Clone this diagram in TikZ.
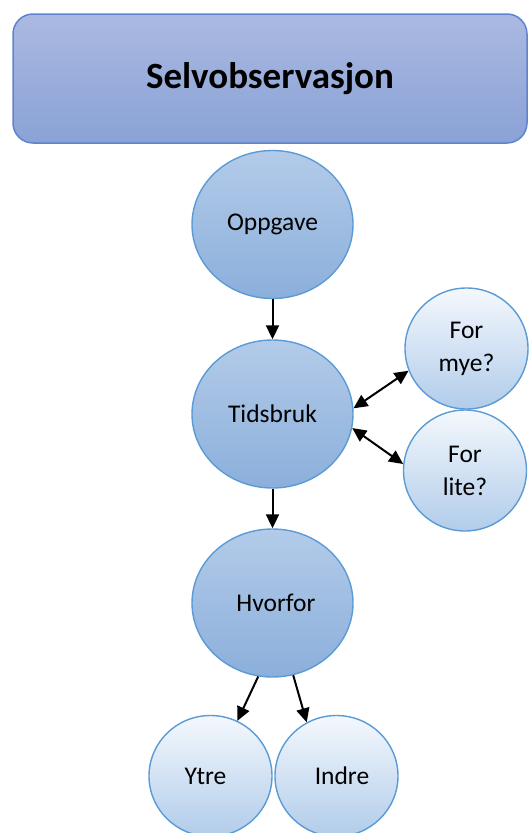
\documentclass[tikz,border=0pt]{standalone}
\usepackage{fontspec}
\setmainfont{Carlito}
\usetikzlibrary{shapes.geometric,arrows.meta}

\definecolor{boxtop}{HTML}{AAB9E1}
\definecolor{boxbot}{HTML}{8AA2D6}
\definecolor{boxline}{HTML}{5F83CC}
\definecolor{bigtop}{HTML}{B3CBE9}
\definecolor{bigbot}{HTML}{8BAFDB}
\definecolor{smalltop}{HTML}{F4F8FD}
\definecolor{smallbot}{HTML}{B1CCEA}
\definecolor{ringline}{HTML}{5B9BD5}

\tikzset{
  titlebox/.style={draw=boxline, line width=1.5pt, rounded corners=20pt,
    top color=boxtop, bottom color=boxbot,
    minimum width=514pt, minimum height=129pt, inner sep=0pt,
    font=\fontsize{37}{40}\selectfont\bfseries},
  bigring/.style={ellipse, draw=ringline, line width=1.4pt,
    top color=bigtop, bottom color=bigbot,
    minimum width=161pt, minimum height=148pt, inner sep=0pt,
    font=\fontsize{25.5}{33}\selectfont},
  smallring/.style={ellipse, draw=ringline, line width=1.4pt,
    top color=smalltop, bottom color=smallbot,
    minimum width=123pt, minimum height=121pt, inner sep=0pt,
    align=center, font=\fontsize{25.5}{33}\selectfont},
  link/.style={line width=2pt, -{Triangle[length=14pt,width=13pt]}},
  twoway/.style={line width=2pt, {Triangle[length=14pt,width=13pt]}-{Triangle[length=14pt,width=13pt]}}
}

\begin{document}
\begin{tikzpicture}[x=1pt,y=-1pt]
  \useasboundingbox (0,0) rectangle (528,833);

  % heading
  \node[titlebox] (title) at (270,78.5) {Selvobservasjon};

  % main chain
  \node[bigring] (oppgave) at (272.5,224.5) {Oppgave};
  \node[bigring] (tidsbruk) at (272.5,414) {Tidsbruk};
  \node[bigring] (hvorfor) at (272.5,603) {\hspace*{7pt}Hvorfor};

  % side questions
  \node[smallring] (formye) at (466.5,348.5) {For\\mye?};
  \node[smallring] (forlite) at (465,470.5) {For\\lite?};

  % causes
  \node[smallring] (ytre) at (210.5,776) {Ytre\hspace*{10pt}};
  \node[smallring] (indre) at (336.5,776) {\hspace*{11pt}Indre};

  % connectors
  \draw[link] (oppgave.south) -- (tidsbruk.north);
  \draw[link] (tidsbruk.south) -- (hvorfor.north);
  \draw[twoway] (tidsbruk.4) -- (formye.201);
  \draw[twoway] (tidsbruk.-10) -- (forlite.174);
  \draw[link] (hvorfor.259) -- (ytre.64);
  \draw[link] (hvorfor.286) -- (indre.119);
\end{tikzpicture}
\end{document}
